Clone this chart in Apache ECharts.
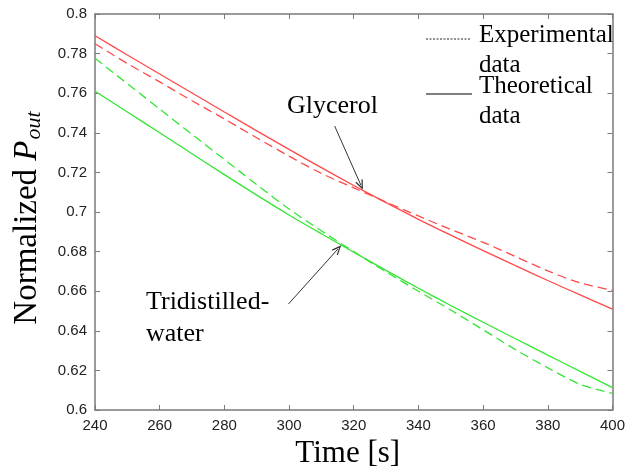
<!DOCTYPE html>
<html>
<head>
<meta charset="utf-8">
<script src="https://cdn.jsdelivr.net/npm/echarts@6/dist/echarts.min.js"></script>
<style>
  html, body { margin: 0; padding: 0; background: #fff; }
  #main { width: 628px; height: 475px; }
</style>
</head>
<body>
<div id="main"></div>
<script>
var times = [240, 250, 260, 270, 280, 290, 300, 310, 320, 330, 340, 350, 360, 370, 380, 390, 400];
// glycerol
var glyTheory = [0.789, 0.7793, 0.7697, 0.7601, 0.7505, 0.7410, 0.7316, 0.7224, 0.7134, 0.7047, 0.6963, 0.6883, 0.6805, 0.6729, 0.6654, 0.6581, 0.6509];
var glyExp = [0.785, 0.7750, 0.7657, 0.7562, 0.7470, 0.7375, 0.7282, 0.7195, 0.7122, 0.7050, 0.6980, 0.6912, 0.6847, 0.6775, 0.6703, 0.6642, 0.6605];
// tridistilled water
var watTheory = [0.761, 0.7505, 0.7400, 0.7294, 0.7189, 0.7085, 0.6985, 0.6890, 0.6797, 0.6705, 0.6615, 0.6528, 0.6443, 0.6360, 0.6277, 0.6195, 0.6113];
var watExp = [0.7776, 0.7648, 0.7520, 0.7392, 0.7265, 0.7138, 0.7015, 0.6905, 0.6800, 0.6697, 0.6600, 0.6505, 0.6405, 0.6305, 0.6213, 0.6130, 0.6084];
// arrows [tail, tip] in data coords
var glyArrow = [[314.1, 0.7434], [322.2, 0.7136]];
var watArrow = [[299.8, 0.6535], [315.1, 0.6813]];

function pairs(ys) {
  return times.map(function (t, i) { return [t, ys[i]]; });
}

var red = '#ff4a4a';
var green = '#33e633';
var axisColor = '#7a7a7a';
var serif = '"Liberation Serif", "Times New Roman", serif';
var arrowHead = 'path://M5,0 L10,9 L8.6,9.6 L5,3 L1.4,9.6 L0,9 Z';

var chart = echarts.init(document.getElementById('main'));

var xBase = {
  type: 'value', min: 240, max: 400, interval: 20,
  axisLine: { onZero: false, lineStyle: { color: axisColor, width: 1.5 } },
  axisTick: { inside: true, length: 5, lineStyle: { color: axisColor } },
  splitLine: { show: false }
};
var yBase = {
  type: 'value', min: 0.6, max: 0.8, interval: 0.02,
  axisLine: { onZero: false, lineStyle: { color: axisColor, width: 1.5 } },
  axisTick: { inside: true, length: 5, lineStyle: { color: axisColor } },
  splitLine: { show: false }
};

chart.setOption({
  animation: false,
  grid: { left: 95, right: 11, top: 14, bottom: 65 },
  xAxis: [
    Object.assign({}, xBase, {
      position: 'bottom',
      name: 'Time [s]',
      nameLocation: 'middle',
      nameGap: 24,
      nameTextStyle: { fontFamily: serif, fontSize: 31, color: '#000', padding: [0, 12, 0, 0] },
      axisLabel: { fontFamily: 'Liberation Sans', fontSize: 15, color: '#222', margin: 8 }
    }),
    Object.assign({}, xBase, { position: 'top', axisLabel: { show: false } })
  ],
  yAxis: [
    Object.assign({}, yBase, {
      position: 'left',
      name: '{a|Normalized }{b|P}{c|out}',
      nameLocation: 'middle',
      nameGap: 46,
      nameTextStyle: {
        rich: {
          a: { fontFamily: serif, fontSize: 33, color: '#000', lineHeight: 40 },
          b: { fontFamily: serif, fontSize: 33, fontStyle: 'italic', color: '#000', lineHeight: 40 },
          c: { fontFamily: serif, fontSize: 22, fontStyle: 'italic', color: '#000', lineHeight: 40, verticalAlign: 'bottom', padding: [0, 12, 2, 1] }
        }
      },
      axisLabel: { fontFamily: 'Liberation Sans', fontSize: 15, color: '#222', margin: 8 }
    }),
    Object.assign({}, yBase, { position: 'right', axisLabel: { show: false } })
  ],
  series: [
    {
      name: 'Glycerol theoretical', type: 'line', data: pairs(glyTheory),
      showSymbol: false, smooth: 0.3, lineStyle: { color: red, width: 1.3 },
      markLine: {
        silent: true, symbol: ['none', arrowHead], symbolSize: [8, 10],
        label: { show: false },
        lineStyle: { color: '#333', width: 1, type: 'solid' },
        data: [
          [{ coord: glyArrow[0] }, { coord: glyArrow[1] }],
          [{ coord: watArrow[0] }, { coord: watArrow[1] }]
        ]
      }
    },
    {
      name: 'Glycerol experimental', type: 'line', data: pairs(glyExp),
      showSymbol: false, smooth: 0.3, lineStyle: { color: red, width: 1.3, type: [9, 5] }
    },
    {
      name: 'Water theoretical', type: 'line', data: pairs(watTheory),
      showSymbol: false, smooth: 0.3, lineStyle: { color: green, width: 1.3 }
    },
    {
      name: 'Water experimental', type: 'line', data: pairs(watExp),
      showSymbol: false, smooth: 0.3, lineStyle: { color: green, width: 1.3, type: [9, 5] }
    }
  ],
  graphic: [
    // legend
    { type: 'line', shape: { x1: 426, y1: 39, x2: 470, y2: 39 }, style: { stroke: '#222', lineWidth: 1, lineDash: [2, 1.5] } },
    { type: 'text', x: 479, y: 20, style: { text: 'Experimental\ndata', font: '25px ' + serif, lineHeight: 30, fill: '#000' } },
    { type: 'line', shape: { x1: 426, y1: 94, x2: 472, y2: 94 }, style: { stroke: '#555', lineWidth: 1.5 } },
    { type: 'text', x: 479, y: 71, style: { text: 'Theoretical\ndata', font: '25px ' + serif, lineHeight: 30, fill: '#000' } },
    // annotations
    { type: 'text', x: 287, y: 91, style: { text: 'Glycerol', font: '26px ' + serif, lineHeight: 30, fill: '#000' } },
    { type: 'text', x: 146, y: 286, style: { text: 'Tridistilled-\nwater', font: '26px ' + serif, lineHeight: 32, fill: '#000' } }
  ]
});
</script>
</body>
</html>
